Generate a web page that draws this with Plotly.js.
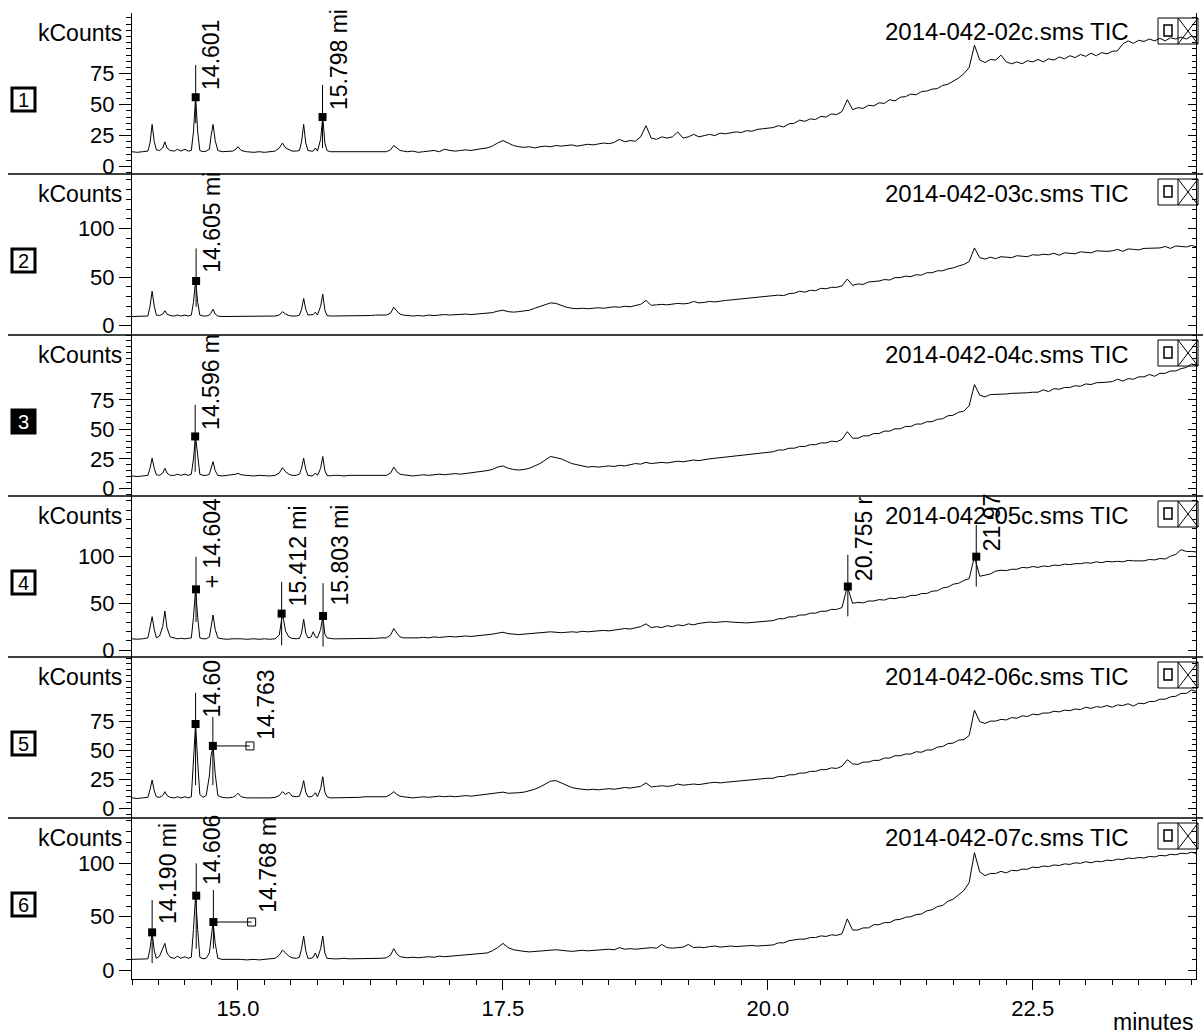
<!DOCTYPE html>
<html><head><meta charset="utf-8">
<script src="https://cdn.plot.ly/plotly-3.0.1.min.js"></script>
<style>html,body{margin:0;padding:0;background:#fff}#chart{width:1203px;height:1034px}</style>
</head><body><div id="chart"></div>
<script>
// ---------- DATA ----------
const sampleNames = ["2014-042-02c.sms TIC","2014-042-03c.sms TIC","2014-042-04c.sms TIC","2014-042-05c.sms TIC","2014-042-06c.sms TIC","2014-042-07c.sms TIC"];
const panelNumbers = ["1","2","3","4","5","6"];
const xTickVals = [15, 17.5, 20, 22.5];
const xTickText = ["15.0","17.5","20.0","22.5"];
const yTickVals = [[0,25,50,75],[0,50,100],[0,25,50,75],[0,50,100],[0,25,50,75],[0,50,100]];

// retention times, early region (min)
const earlyT = [14.0,14.05,14.1,14.15,14.17,14.19,14.21,14.23,14.26,14.29,
 14.31,14.33,14.36,14.4,14.43,14.46,14.5,14.53,14.56,14.58,
 14.6,14.62,14.64,14.67,14.7,14.73,14.745,14.765,14.785,14.81,
 14.85,14.9,14.95,14.98,15.0,15.03,15.08,15.15,15.2,15.25,
 15.3,15.35,15.39,15.42,15.45,15.48,15.51,15.55,15.58,15.6,
 15.62,15.64,15.66,15.69,15.71,15.73,15.75,15.78,15.8,15.82,
 15.84,15.87,15.9,15.95,16.0,16.05,16.1,16.15,16.2,16.25,
 16.3,16.35,16.4,16.44,16.47,16.5,16.53,16.56];
// retention times, late region (min)
const lateT = [16.6,16.65,16.7,16.75,16.8,16.85,16.9,16.95,17.0,17.05,
 17.1,17.15,17.2,17.25,17.3,17.35,17.4,17.45,17.5,17.55,
 17.6,17.65,17.7,17.75,17.8,17.85,17.9,17.95,18.0,18.05,
 18.1,18.15,18.2,18.25,18.3,18.35,18.4,18.45,18.5,18.55,
 18.6,18.65,18.7,18.75,18.8,18.85,18.9,18.95,19.0,19.05,
 19.1,19.15,19.2,19.25,19.3,19.35,19.4,19.45,19.5,19.55,
 19.6,19.65,19.7,19.75,19.8,19.85,19.9,19.95,20.0,
 20.05,20.1,20.15,20.2,20.25,20.3,20.35,20.4,20.45,20.5,
 20.55,20.6,20.65,20.7,20.75,20.8,20.85,20.9,20.95,21.0,
 21.05,21.1,21.15,21.2,21.25,21.3,21.35,21.4,21.45,21.5,
 21.55,21.6,21.65,21.7,21.75,21.8,21.85,21.9,21.95,22.0,
 22.05,22.1,22.15,22.2,22.25,22.3,22.35,22.4,22.45,22.5,
 22.55,22.6,22.65,22.7,22.75,22.8,22.85,22.9,22.95,23.0,
 23.05,23.1,23.15,23.2,23.25,23.3,23.35,23.4,23.45,23.5,
 23.55,23.6,23.65,23.7,23.75,23.8,23.85,23.9,23.95,24.0,
 24.05];

// kCounts, panel 1..6, early region
const early1 = [12,11.5,12,12.5,19,34,20,13.5,13,15, 20,15,13,12.5,14,12.5,14,12.5,13,28, 56,28,13,12,12.5,14,24,34,21,13, 12,12,12.5,14,16,13,12,11.5,12,11.5, 12,12.5,15,19,15,13.5,12.5,12.5,13,20, 34,19,13,12.5,12.5,15,12.5,22,40,19, 13,12,12,11.5,12,12,11.5,12,12,11.5, 12,12,12,13.5,17,15,13,12.5];
const early2 = [9.5,9.5,9.5,10,20,35.5,20,11,10.5,12, 15.5,12,10.5,10,11,10,11,10,11,24, 46,24,11,10,10,11,13,17,12,10, 9.5,9.5,9.5,9.5,10,9.5,9.5,10,10,10, 10,10,11,14.5,12,10.5,10,10,11,17, 28,17,11,11,11.5,14,11,20,32.5,16, 10.5,10,10,10,10,10,10,10,10.5,10.5, 11,11,11,13,19,15,12,11];
const early3 = [10.5,10,10.5,11,17,25.5,17,11.5,11,13, 17,13,11,11,12,11,12,11,12,25, 44,25,12,11,11,12,17,22.6,15,11, 10.5,11,11.5,12,12.7,11.5,11,10.5,11,10.5, 10.5,11,13,17.5,14,12,11,11,12,17, 25.5,16,11,10.5,11,13,11,17,27,15, 11,10.5,11,11,10.5,11,11,10.5,11,11, 11,11,11,13,18,14,12,11.5];
const early4 = [12,11.5,12,13,24,35.7,22,13,15,25, 41.8,24,14,12.5,12,12.5,12,12.5,13,35, 65,35,13,12,12,14,25,37.5,22,13, 12,11.5,12,12,12.5,12,11.5,12,11.5,12, 11.5,12,16,39,20,14,12.5,12,12.5,18, 33,18,13,14,19.6,14,13,22,36.4,17, 13,12.5,12,12,12,12.5,12,12.5,12,12.5, 12.5,13,13,16,23,18,14,13];
const early5 = [9,8.5,9,9.5,16,24.5,15,10,9.5,11, 14.4,11,9.5,9,10,9,10,9,10,40, 73,40,12,9.5,11,28,45,54,30,11, 9.5,9,9.5,11,13,10,9,9,9,8.5, 9,9.5,11,14.4,12,14,10.5,10,10.5,16, 24,14,10,10,11,13.5,10,17,27.4,14, 10,9,9,9,9.5,9,9,9.5,10,10, 10,10,10,12,14.4,12,10.5,10];
const early6 = [10,10,10,10.5,20,35.3,18,11,13,20, 25,16,12,11,13,11,12.5,11,12,38, 69.7,38,12,10.5,11,16,30,45,25,11, 10,10,10,10.5,10,10,9.5,10,9.5,10, 10,11,14,18.7,16,13,11.5,11,12,20, 31.9,18,11,11,12,16,11,20,31.9,16, 11,10.5,10.5,10.5,11,10.5,10.5,11,11,11, 11,11,11.5,14,20,15,12.5,12];

// kCounts, panel 1..6, late region
const late1 = [12,12.5,11.5,12,12.5,13,12,14,13,12.5, 13,13.5,13,14,14.5,15,16.5,19,21,19, 17,16,15.5,16,15,16,16.5,16,17,16.5, 17,17.5,16.5,17.5,18,17.5,18.5,19,18.5,19.5, 22,20,21,20.5,24,33,23,22,24,23, 24,28,23,24,26,24,25,26,25,27, 26.5,27,28,27.5,29,28.5,30,30.5,31,
 31.5,33,32,34.5,35,37.5,36.5,38.5,38,40.5, 40,42.5,42,44.5,54,46,47.5,47,49.5,49, 51.5,51,54,53,56,56.5,58.5,58,60.5,61, 62.5,63,65.5,66.5,69,71.5,75,80,98,86,
 84,86.5,86,90,84.5,83,84.5,83,85.5,84.5, 86.5,84.5,87,86,88.5,87,89.5,88,90.5,89, 91.5,89.5,92,91,93,93.5,99,101.5,99.5,102, 101,103,101.5,103.5,101.5,104,103,104.5,103,105.5, 104];
const late2 = [10.5,10,10.5,10,11,10.5,11,11.5,11,11.5, 11.5,12,11.5,12,12.5,13,13.5,15,16,14.5, 14,14.5,15,16,18,20,22,23.5,23,21, 19,18,17.5,18,17.5,18,18.5,18,19,19.5, 19,20,19.5,20.5,22,26,21,21.5,22,21.5, 22,23,22.5,23,25,23.5,24,25,24.5,25.5, 26,26.5,27,27.5,28,28.5,29,29.5,30,
 30.5,31.5,31,33,33.5,35.5,34.5,36.5,36,38.5, 38,39.5,39.5,41,48,41.5,43,42.5,45,45.5, 46,47.5,47,49.5,49.5,51,50.5,52.5,52,54.5, 54.5,56.5,56.5,58.5,59.5,61.5,63,66,80,70,
 68.5,70.5,69,71,70.5,70,72,71.5,71,73, 72.5,73.5,73,74.5,72.5,75,74.5,74,76,75.5, 75,77,76.5,76.5,77,78.5,76.5,79,78.5,78, 79.5,79.5,80,80,81.5,79.5,82,81.5,81,82.5, 81];
const late3 = [11,10.5,11,11.5,11,11.5,12,11.5,12,12.5, 12,12.5,13,13.5,14,15,16,18,19,17, 16,15.5,16,17,19,21,24,27,26,25, 23,21,20,19,18,18.5,18,18.5,19,18.5, 19.5,19,20,21,20.5,22,21,21.5,22,21.5, 22,23,22.5,23.5,24,23.5,24.5,25,25.5,26, 26.5,27,27.5,28,29,29.5,30,30.5,31,
 31,32.5,32.5,34,34,35.5,35.5,37,37,38.5, 38.5,40,39.5,41.5,48,42.5,42.5,44.5,44.5,46.5, 46.5,48.5,48.5,50.5,50.5,52.5,52.5,54.5,54.5,56.5, 56.5,58.5,59,61.5,62,64.5,65.5,70,88,79,
 77.5,79.5,79.5,80,80,80.5,80.5,81,81,81.5, 81.5,83.5,82,84.5,84,85.5,85.5,87,86.5,88.5, 88,89.5,89.5,90,90.5,92.5,91,93,92.5,94.5, 94.5,96.5,95,97.5,97.5,99.5,99.5,101.5,102.5,105.5, 104];
const late4 = [13,12.5,13,13.5,13,14,13.5,14,14.5,14, 14.5,15,14.5,15,15.5,16,17,18,19,17.5, 17,16.5,17,17.5,18,18.5,19,19.5,19,18.5, 19,19.5,19,20,19.5,20,20.5,21,20.5,21.5, 22,23,22.5,24,25,28,24,25,24,26, 25,27,26,28,27,28.5,29,30,29.5,30, 30.5,30,29.5,29,29,29.5,30,30.5,31,
 31.5,33.5,33.5,35.5,35.5,37.5,37.5,39.5,39.5,41.5, 41.5,43.5,43.5,45.5,68,50,51,50.5,52.5,52.5, 54,53.5,55.5,55,56.5,56.5,58.5,58.5,60.5,60.5, 63,63.5,66.5,67.5,70.5,71.5,74.5,76.5,100,79,
 80.5,81.5,84.5,85.5,85,86.5,86.5,88.5,88,89.5, 88.5,90,89.5,91,90.5,92,91.5,92.5,92.5,93.5, 93,94.5,93.5,95,94.5,95,94.5,96,95.5,95.5, 95.5,97,96.5,98,97.5,100.5,102.5,107.5,105.5,105.5, 105];
const late5 = [9.5,9,9.5,10,9.5,10,10.5,10,10.5,10, 10.5,11,10.5,11,11.5,12,12.5,13.5,14,13, 13,13.5,14,15,16.5,18.5,21,23.5,24,22, 20,18,17,16.5,16,16.5,16,16.5,17,16.5, 17,18,17.5,18,19,22,18.5,19,19.5,19, 19.5,21,20,20.5,21,20.5,21.5,22,22.5,22, 22.5,23,23.5,24,24,24.5,25,25.5,26,
 26,27.5,27.5,29,29,30.5,30.5,32,32,33.5, 33.5,35,34.5,36.5,42,38.5,38,40,40,41.5, 41.5,43.5,43.5,45.5,45.5,47,47,49,48.5,50.5, 50.5,53,53.5,56,56.5,59,59.5,63,85,75,
 73.5,75.5,75.5,77,76.5,78.5,78,80,79.5,81.5, 81,82.5,82.5,84,83.5,85,84.5,86,85.5,87.5, 86.5,88,87.5,89,87.5,89.5,89,90.5,88.5,91, 90.5,92.5,92.5,94.5,94.5,96.5,97,99.5,99.5,102.5, 101];
const late6 = [11.5,12,11.5,12,12.5,12,13,12.5,13,13.5, 13.5,14,14.5,15,15.5,16,18,21,25,21, 19,18,17.5,17,17.5,18,18.5,19,19,18.5, 18,17.5,18,18.5,18,18.5,18.7,19,19.5,19, 21,19.5,20,19.5,20,20.5,21,20.5,24,21, 20.5,21,21.5,24,21,21.5,21,22,22.5,21.5, 22,22.5,22,22.5,22.5,23,22.5,23,23.5,
 23.5,25.5,25.5,27.5,28.5,29,29,30.5,30.5,32, 31.5,33,32.5,34,48,37.5,37.5,39.5,39.5,42.5, 42.5,44.5,44.5,47,47.5,49.5,50,52,52.5,55.5, 56.5,59.5,60.5,64.5,66.5,70.5,74.5,82,110,92,
 88.5,90.5,90.5,92.5,91,93.5,93,94.5,94.5,96.5, 96,97.5,97,98.5,98,99.5,99,100.5,100,101.5, 100.5,102,101.5,103,102.5,104,103.5,105,104.5,105.5, 105,106.5,106,107.5,107,108.5,108,109.5,109,110.5, 109];

// labelled peaks per panel
const peakT = [[14.601,15.798],[14.605],[14.596],[14.604,15.412,15.803,20.755,21.967],[14.60,14.763],[14.190,14.606,14.768]];
const peakY = [[56,40],[46],[44],[65,39,36.4,68,100],[73,54],[35.3,69.7,45]];
const lineTop = [[82,66],[79.5],[70.8],[100,73,71.6,102,134],[100,79],[65.6,100,75]];
const lineBot = [[35,15],[19.5],[14],[30,5,3.5,36,68],[20,20],[6.5,20,20]];
const peakText = [["14.601","15.798 mi"],["14.605 mi"],["14.596 m"],["+ 14.604","15.412 mi","15.803 mi","20.755 r","21.97"],["14.60","14.763"],["14.190 mi","14.606","14.768 m"]];
const textY = [[60,44],[52],[48],[64,44.7,45,72,104],[76.5,57.6],[41,78,51.5]];
const textT = [[14.601,15.798],[14.605],[14.596],[14.604,15.412,15.803,20.755,21.967],[14.60,15.113],[14.190,14.606,15.129]];
const linkPanel = [4,5];
const linkPeak = [1,2];
const linkEndT = [15.113,15.129];

// ---------- LAYOUT HELPERS ----------
const W=1203,H=1034,ML=132,MR=6,MT=13,MB=55;
const PW=W-ML-MR, PH=H-MT-MB;
const px2x = p => (p-ML)/PW;
const py2y = p => (H-MB-p)/PH;
const panelTop = i => MT + i*PH/6;
const FONT = "Liberation Sans, Arial, sans-serif";
const XR = [14,24.05];
const yRanges = [[-6,124],[-9.5,156],[-6.5,130],[-7.5,165],[-8.4,131],[-8.4,142.5]];
const yMinor = [5,10,5,10,5,10];

const earlyY = [early1,early2,early3,early4,early5,early6];
const lateY = [late1,late2,late3,late4,late5,late6];

const traces = [];
const baseAx = {showgrid:false, zeroline:false, fixedrange:true, tickcolor:'#000', tickwidth:1, linecolor:'#000', linewidth:1};
const layout = {
  width:W, height:H, margin:{l:ML,r:MR,t:MT,b:MB,pad:0},
  paper_bgcolor:'#fff', plot_bgcolor:'rgba(0,0,0,0)', showlegend:false,
  font:{family:FONT,color:'#000',size:22},
  xaxis:Object.assign({}, baseAx, {domain:[0,1], range:XR, anchor:'y6', showline:true,
    ticks:'outside', ticklen:10, tickmode:'array', tickvals:xTickVals, ticktext:xTickText,
    tickfont:{family:FONT,size:22,color:'#000'}}),
  shapes:[], annotations:[]
};
const tickLine = {color:'#000', width:1};
// crisp pixel helpers for tick decorations
const crispX = px => px2x(Math.round(px)+0.5);
const crispY = py => py2y(Math.round(py)+0.5);

// x minor ticks every 0.25 min
for(let k=0; 14+0.25*k <= XR[1]+1e-9; k++){
  const t = 14+0.25*k;
  if(xTickVals.indexOf(t) >= 0) continue;
  const xp = crispX(ML + (t-XR[0])/(XR[1]-XR[0])*PW - 0.5);
  layout.shapes.push({type:'line', xref:'paper', yref:'paper', x0:xp, x1:xp, y0:0, y1:py2y(H-MB+6), line:tickLine});
}

for(let i=0;i<6;i++){
  const yid = i===0 ? 'y' : 'y'+(i+1);
  const yname = i===0 ? 'yaxis' : 'yaxis'+(i+1);
  const dom = [1-(i+1)/6, 1-i/6];
  const r = yRanges[i];
  const pTop = panelTop(i), pH = PH/6;
  const yPix = v => pTop + pH - (v-r[0])/(r[1]-r[0])*pH;
  layout[yname] = Object.assign({}, baseAx, {domain:dom, range:r, anchor:'x', showline:true,
    ticks:'outside', ticklen:12, tickmode:'array', tickvals:yTickVals[i], ticktext:yTickVals[i].map(String),
    tickfont:{family:FONT,size:22,color:'#000'}});

  const m = yMinor[i];
  for(let k=Math.ceil(r[0]/m); k*m <= r[1]; k++){
    const v = k*m;
    const isMajor = yTickVals[i].indexOf(v) >= 0;
    const yp = crispY(yPix(v)-0.5);
    if(!isMajor) layout.shapes.push({type:'line', xref:'paper', yref:'paper', x0:px2x(ML-6), x1:0, y0:yp, y1:yp, line:tickLine});
    const rl = isMajor ? 9 : 5;
    layout.shapes.push({type:'line', xref:'paper', yref:'paper', x0:px2x(W-MR-rl), x1:1, y0:yp, y1:yp, line:tickLine});
  }
  layout.shapes.push({type:'line', xref:'paper', yref:'paper', x0:crispX(W-MR-1), x1:crispX(W-MR-1), y0:dom[0], y1:dom[1], line:tickLine});

  // chromatogram
  traces.push({x:earlyT.concat(lateT), y:earlyY[i].concat(lateY[i]), xaxis:'x', yaxis:yid, mode:'lines',
    line:{color:'#000', width:1}, hoverinfo:'skip'});

  // label lines
  const lx=[], ly=[];
  peakT[i].forEach((t,k)=>{ lx.push(t,t,null); ly.push(lineBot[i][k], lineTop[i][k], null); });
  traces.push({x:lx, y:ly, xaxis:'x', yaxis:yid, mode:'lines', line:{color:'#000',width:1}, hoverinfo:'skip'});
  traces.push({x:peakT[i], y:peakY[i], xaxis:'x', yaxis:yid, mode:'markers',
    marker:{symbol:'square', size:8, color:'#000'}, hoverinfo:'skip'});
  peakText[i].forEach((s,k)=>{
    layout.annotations.push({xref:'x', yref:yid, x:textT[i][k], y:textY[i][k], text:s, textangle:-90,
      xanchor:'left', yanchor:'bottom', xshift:1, showarrow:false, font:{family:FONT,size:23,color:'#000'}});
  });

  const top = panelTop(i);
  layout.annotations.push({xref:'paper', yref:'paper', x:px2x(124), y:py2y(top+20), xanchor:'right', yanchor:'middle',
    text:'kCounts', showarrow:false, font:{family:FONT,size:23,color:'#000'}});
  layout.annotations.push({xref:'paper', yref:'paper', x:px2x(1131), y:py2y(top+19), xanchor:'right', yanchor:'middle',
    text:sampleNames[i], showarrow:false, font:{family:FONT,size:24,color:'#000'}});
  const inv = (i===2);
  layout.shapes.push({type:'rect', xref:'paper', yref:'paper', x0:px2x(12), x1:px2x(35), y0:py2y(top+75), y1:py2y(top+98),
    line:{color:'#000',width:3}, fillcolor: inv ? '#000' : '#fff', layer:'above'});
  layout.annotations.push({xref:'paper', yref:'paper', x:px2x(23.5), y:py2y(top+86.5), xanchor:'center', yanchor:'middle',
    text:panelNumbers[i], showarrow:false, font:{family:FONT,size:20,color: inv ? '#fff' : '#000'}});
  const bt = top+5, bb = top+31;
  layout.shapes.push({type:'rect', xref:'paper', yref:'paper', x0:px2x(1158), x1:px2x(1198), y0:py2y(bb), y1:py2y(bt), line:{color:'#000',width:1}});
  layout.shapes.push({type:'line', xref:'paper', yref:'paper', x0:px2x(1178), x1:px2x(1178), y0:py2y(bb), y1:py2y(bt), line:{color:'#000',width:1}});
  layout.shapes.push({type:'rect', xref:'paper', yref:'paper', x0:px2x(1164), x1:px2x(1172), y0:py2y(top+23), y1:py2y(top+12), line:{color:'#000',width:1.5}});
  layout.shapes.push({type:'line', xref:'paper', yref:'paper', x0:px2x(1178), x1:px2x(1198), y0:py2y(bt), y1:py2y(bb), line:{color:'#000',width:1}});
  layout.shapes.push({type:'line', xref:'paper', yref:'paper', x0:px2x(1178), x1:px2x(1198), y0:py2y(bb), y1:py2y(bt), line:{color:'#000',width:1}});
  if(i<5){
    layout.shapes.push({type:'line', xref:'paper', yref:'paper', x0:px2x(8), x1:px2x(1203), y0:dom[0], y1:dom[0], line:{color:'#000',width:1.5}});
  }
}

linkPanel.forEach((p,k)=>{
  const yid = 'y'+(p+1);
  const t0 = peakT[p][linkPeak[k]], yv = peakY[p][linkPeak[k]];
  traces.push({x:[t0, linkEndT[k]], y:[yv, yv], xaxis:'x', yaxis:yid, mode:'lines', line:{color:'#000',width:1}, hoverinfo:'skip'});
  traces.push({x:[linkEndT[k]], y:[yv], xaxis:'x', yaxis:yid, mode:'markers', marker:{symbol:'square-open', size:8, color:'#000', line:{width:1}}, hoverinfo:'skip'});
});

layout.annotations.push({xref:'paper', yref:'paper', x:px2x(1196), y:py2y(1022), xanchor:'right', yanchor:'middle',
  text:'minutes', showarrow:false, font:{family:FONT,size:23,color:'#000'}});

Plotly.newPlot('chart', traces, layout, {staticPlot:true, displayModeBar:false});
</script>
</body></html>
